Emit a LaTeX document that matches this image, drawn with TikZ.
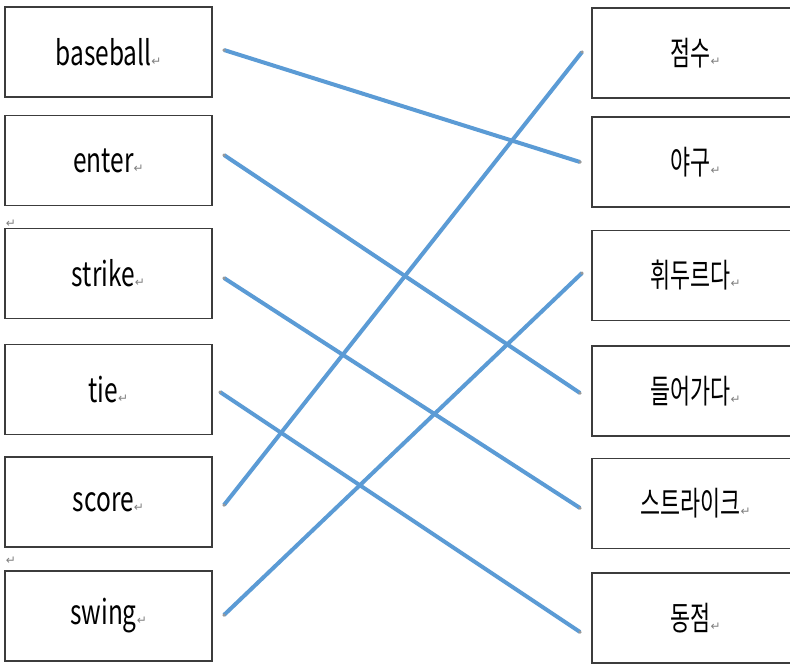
\documentclass[tikz,border=0pt]{standalone}
\usepackage{fontspec}
\newfontfamily\krfont{Noto Sans CJK KR}[FakeStretch=0.66]
\newfontfamily\enfont{Noto Sans CJK KR}[FakeStretch=0.72]
\newfontfamily\symfont{DejaVu Sans}
\definecolor{lineblue}{HTML}{5B9BD5}
\definecolor{boxgray}{HTML}{3C3C3C}
\newcommand{\ret}{{\symfont\fontsize{12}{12}\selectfont\color{gray}↵}}
\begin{document}
\begin{tikzpicture}[x=1pt,y=-1pt,
  wordbox/.style={draw=boxgray, line width=1.6pt, minimum width=207pt, minimum height=90pt, inner sep=0pt, font=\krfont\fontsize{33}{33}\selectfont},
  enbox/.style={wordbox, font=\enfont\fontsize{34}{34}\selectfont},
  link/.style={draw=lineblue, line width=4pt},
  enddot/.style={fill=gray!80, draw=none, circle, minimum size=3.5pt, inner sep=0pt}]
\useasboundingbox (0,0) rectangle (790,665);
\clip (0,0) rectangle (790,665);
% left boxes
\node[enbox] (baseball) at (108.5,52) {baseball\ret};
\node[enbox] (enter) at (108.5,160.5) {enter\ret};
\node[enbox] (strike) at (108.5,273.5) {strike\ret};
\node[enbox] (tie) at (108.5,389.5) {tie\ret};
\node[enbox] (score) at (108.5,502) {score\ret};
\node[enbox] (swing) at (108.5,616) {swing\ret};
% stray paragraph marks
\node[inner sep=0pt] (pm1) at (11,224) {\ret};
\node[inner sep=0pt] (pm2) at (11,561) {\ret};
% right boxes
\node[wordbox] (jeomsu) at (695.5,53) {점수\ret};
\node[wordbox] (yagu) at (695.5,162) {야구\ret};
\node[wordbox] (hwiduruda) at (695.5,275.5) {휘두르다\ret};
\node[wordbox] (deureogada) at (695.5,391) {들어가다\ret};
\node[wordbox] (seuteuraikeu) at (695.5,503.5) {스트라이크\ret};
\node[wordbox] (dongjeom) at (695.5,618) {동점\ret};
% connector end points
\coordinate (Lbaseball) at (224,50);
\coordinate (Lenter) at (224,155);
\coordinate (Lstrike) at (224,278);
\coordinate (Ltie) at (220,392);
\coordinate (Lscore) at (224,505);
\coordinate (Lswing) at (224,615);
\coordinate (Rjeomsu) at (582,52);
\coordinate (Ryagu) at (580,162);
\coordinate (Rhwiduruda) at (582,273);
\coordinate (Rdeureogada) at (580,393);
\coordinate (Rseuteuraikeu) at (580,508);
\coordinate (Rdongjeom) at (580,632);
% connectors
\draw[link] (Lbaseball) -- (Ryagu);
\draw[link] (Lenter) -- (Rdeureogada);
\draw[link] (Lstrike) -- (Rseuteuraikeu);
\draw[link] (Ltie) -- (Rdongjeom);
\draw[link] (Lscore) -- (Rjeomsu);
\draw[link] (Lswing) -- (Rhwiduruda);
\foreach \p in {Lbaseball,Lenter,Lstrike,Ltie,Lscore,Lswing,Rjeomsu,Ryagu,Rhwiduruda,Rdeureogada,Rseuteuraikeu,Rdongjeom}
  \node[enddot] at (\p) {};
\end{tikzpicture}
\end{document}
